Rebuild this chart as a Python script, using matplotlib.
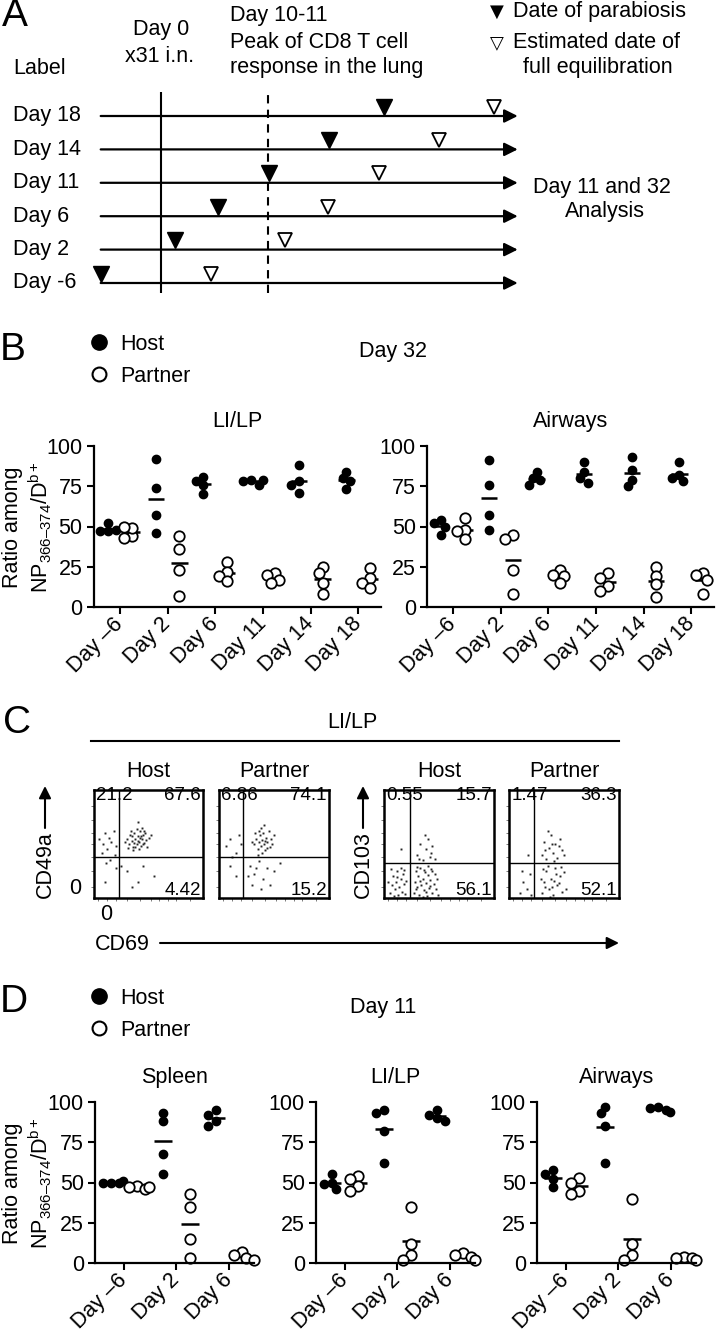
import numpy as np
import matplotlib.pyplot as plt
from matplotlib.lines import Line2D
import matplotlib.transforms as mtransforms

plt.rcParams['font.family'] = ['Liberation Sans', 'DejaVu Sans']
plt.rcParams['mathtext.fontset'] = 'custom'
plt.rcParams['mathtext.rm'] = 'Liberation Sans'
plt.rcParams['mathtext.it'] = 'Liberation Sans:italic'

# ---------------- data ----------------
# panel A: schematic timeline (day 0 = infection, units ~ days on the drawing)
row_labels = ['Day -6', 'Day 2', 'Day 6', 'Day 11', 'Day 14', 'Day 18']
parab_pos = [-6.0, 1.4, 5.7, 10.8, 16.8, 22.3]
equil_offset = 11.0
line_start, arrow_end = -6.0, 35.7
peak_pos = 10.7

# panel B: day 32, ratio among NP366-374/Db+ cells
groups_b = ['Day \u20136', 'Day 2', 'Day 6', 'Day 11', 'Day 14', 'Day 18']
lilp32_host = [[47, 47, 48, 52], [92, 74, 57, 46], [81, 78, 76, 70],
               [79, 78, 76, 79], [88, 78, 76, 71], [84, 80, 78, 73]]
lilp32_partner = [[44, 49, 50, 43], [44, 36, 23, 7], [28, 22, 19, 16],
                  [21, 20, 17, 15], [25, 21, 15, 8], [24, 18, 15, 12]]
air32_host = [[54, 52, 50, 45], [91, 76, 57, 48], [84, 80, 79, 76],
              [90, 84, 80, 77], [93, 85, 79, 75], [90, 82, 80, 78]]
air32_partner = [[55, 48, 47, 42], [45, 42, 23, 8], [23, 20, 19, 15],
                 [21, 18, 13, 10], [25, 19, 14, 6], [21, 20, 17, 8]]

# panel D: day 11
groups_d = ['Day \u20136', 'Day 2', 'Day 6']
spleen_host = [[50, 50, 50, 51], [93, 88, 68, 55], [95, 92, 88, 85]]
spleen_partner = [[48, 47, 46, 47], [43, 35, 15, 3], [7, 5, 3, 2]]
lilp11_host = [[55, 50, 49, 46], [95, 93, 82, 62], [95, 92, 90, 88]]
lilp11_partner = [[54, 52, 48, 45], [35, 12, 5, 2], [6, 5, 4, 2]]
air11_host = [[58, 55, 52, 47], [97, 93, 85, 62], [97, 96, 95, 94]]
air11_partner = [[53, 50, 45, 43], [40, 12, 5, 2], [4, 3, 3, 2]]

# panel C: flow plots (fractions of plot width/height), quadrant values
flow_titles = ['Host', 'Partner', 'Host', 'Partner']
flow_quads = [('21.2', '67.6', '4.42'), ('6.86', '74.1', '15.2'),
              ('0.55', '15.7', '56.1'), ('1.47', '36.3', '52.1')]
flow_gates = [(0.23, 0.38), (0.22, 0.38), (0.24, 0.32), (0.23, 0.32)]
flow1_x = [0.30, 0.32, 0.33, 0.35, 0.36, 0.37, 0.38, 0.39, 0.40, 0.41, 0.42, 0.43, 0.44, 0.45,
           0.46, 0.47, 0.48, 0.34, 0.36, 0.39, 0.41, 0.44, 0.49, 0.50, 0.31, 0.28, 0.37, 0.40,
           0.43, 0.35, 0.46, 0.38, 0.42, 0.45, 0.52, 0.40, 0.05, 0.08, 0.10, 0.12, 0.14, 0.16,
           0.18, 0.07, 0.15, 0.20, 0.11, 0.19, 0.25, 0.30, 0.40, 0.45, 0.35, 0.55, 0.10, 0.20]
flow1_y = [0.55, 0.50, 0.58, 0.53, 0.47, 0.60, 0.55, 0.50, 0.57, 0.52, 0.62, 0.48, 0.55, 0.58,
           0.51, 0.60, 0.54, 0.62, 0.44, 0.64, 0.45, 0.65, 0.47, 0.56, 0.46, 0.52, 0.51, 0.53,
           0.57, 0.57, 0.62, 0.47, 0.56, 0.50, 0.58, 0.70, 0.55, 0.50, 0.60, 0.45, 0.56, 0.52,
           0.62, 0.42, 0.35, 0.48, 0.32, 0.40, 0.30, 0.25, 0.15, 0.30, 0.10, 0.20, 0.15, 0.28]
flow2_x = [0.32, 0.34, 0.35, 0.36, 0.37, 0.38, 0.39, 0.40, 0.41, 0.42, 0.43, 0.44, 0.45, 0.46,
           0.38, 0.35, 0.41, 0.47, 0.33, 0.39, 0.44, 0.30, 0.36, 0.42, 0.48, 0.50, 0.06, 0.10,
           0.15, 0.18, 0.12, 0.20, 0.28, 0.32, 0.36, 0.40, 0.44, 0.30, 0.38, 0.50, 0.26, 0.46,
           0.34, 0.55, 0.10, 0.15]
flow2_y = [0.50, 0.55, 0.45, 0.52, 0.58, 0.48, 0.54, 0.60, 0.50, 0.44, 0.56, 0.52, 0.62, 0.47,
           0.65, 0.40, 0.68, 0.55, 0.60, 0.42, 0.46, 0.52, 0.62, 0.53, 0.50, 0.58, 0.48, 0.55,
           0.42, 0.58, 0.38, 0.50, 0.30, 0.22, 0.34, 0.18, 0.28, 0.12, 0.08, 0.25, 0.20, 0.12,
           0.28, 0.32, 0.30, 0.20]
flow3_x = [0.05, 0.07, 0.08, 0.10, 0.11, 0.12, 0.13, 0.14, 0.15, 0.16, 0.17, 0.18, 0.19, 0.06,
           0.09, 0.20, 0.12, 0.15, 0.04, 0.18, 0.27, 0.28, 0.29, 0.30, 0.31, 0.32, 0.33, 0.34,
           0.35, 0.36, 0.37, 0.38, 0.39, 0.40, 0.41, 0.42, 0.43, 0.44, 0.45, 0.46, 0.47, 0.48,
           0.30, 0.35, 0.40, 0.44, 0.33, 0.38, 0.42, 0.36, 0.29, 0.49, 0.30, 0.33, 0.35, 0.38,
           0.40, 0.42, 0.44, 0.46, 0.37, 0.43, 0.32, 0.15]
flow3_y = [0.05, 0.12, 0.20, 0.08, 0.15, 0.25, 0.03, 0.10, 0.18, 0.06, 0.22, 0.13, 0.04, 0.27,
           0.02, 0.16, 0.19, 0.28, 0.15, 0.26, 0.05, 0.15, 0.25, 0.10, 0.20, 0.03, 0.28, 0.12,
           0.18, 0.07, 0.24, 0.14, 0.02, 0.21, 0.09, 0.17, 0.27, 0.05, 0.13, 0.22, 0.08, 0.18,
           0.29, 0.01, 0.30, 0.25, 0.16, 0.06, 0.11, 0.26, 0.08, 0.03, 0.40, 0.50, 0.35, 0.45,
           0.55, 0.38, 0.48, 0.36, 0.58, 0.42, 0.36, 0.45]
flow4_x = [0.10, 0.13, 0.16, 0.19, 0.12, 0.20, 0.30, 0.32, 0.34, 0.36, 0.38, 0.40, 0.42, 0.44,
           0.46, 0.48, 0.35, 0.39, 0.43, 0.31, 0.37, 0.45, 0.50, 0.33, 0.41, 0.47, 0.29, 0.52,
           0.30, 0.32, 0.34, 0.36, 0.38, 0.40, 0.42, 0.44, 0.46, 0.48, 0.35, 0.41, 0.39, 0.45,
           0.33, 0.50, 0.17]
flow4_y = [0.05, 0.15, 0.08, 0.22, 0.25, 0.03, 0.05, 0.15, 0.25, 0.08, 0.18, 0.03, 0.28, 0.12,
           0.20, 0.06, 0.30, 0.10, 0.22, 0.27, 0.01, 0.14, 0.24, 0.10, 0.16, 0.29, 0.18, 0.08,
           0.40, 0.52, 0.36, 0.46, 0.58, 0.42, 0.50, 0.37, 0.55, 0.44, 0.62, 0.34, 0.50, 0.48,
           0.44, 0.40, 0.40]

FS = 15.5
W, H = 716, 1335
fig = plt.figure(figsize=(W / 100, H / 100), dpi=100)


def box(x0, y0, x1, y1, **kw):
    return fig.add_axes([x0 / W, 1 - y1 / H, (x1 - x0) / W, (y1 - y0) / H], **kw)


ov = box(0, 0, W, H, zorder=-1)
ov.set_xlim(0, W)
ov.set_ylim(H, 0)
ov.axis('off')


def label(x, y, s, size=FS, **kw):
    kw.setdefault('va', 'center')
    ov.text(x, y, s, fontsize=size, **kw)


# ---------------- panel A ----------------
axA = box(0, 0, W, 300)
axA.axis('off')
axA.set_xlim(-16.07, 55.53)
axA.set_ylim(-0.509, 8.473)
row_tr = mtransforms.blended_transform_factory(ov.transData, axA.transData)
for i, (lab, p) in enumerate(zip(row_labels, parab_pos)):
    axA.annotate('', xy=(arrow_end, i), xytext=(line_start, i),
                 arrowprops=dict(arrowstyle='-|>', color='k', lw=1.6,
                                 mutation_scale=20, shrinkA=0, shrinkB=0))
    axA.plot(p, i + 0.28, 'v', color='k', ms=11)
    axA.plot(p + equil_offset, i + 0.28, 'v', mfc='white', mec='k', mew=1.3, ms=10)
    axA.text(13, i, lab, transform=row_tr, fontsize=FS, va='center')
axA.vlines(0, -0.3, 5.72, color='k', lw=1.5)
axA.vlines(peak_pos, -0.3, 5.72, color='k', lw=1.5, linestyles=(0, (4, 3)))

label(2, 16, 'A', size=28)
label(13, 68, 'Label')
label(161, 30, 'Day 0', ha='center')
label(160, 57, 'x31 i.n.', ha='center')
label(230, 15, 'Day 10-11')
label(230, 42, 'Peak of CD8 T cell')
label(230, 68, 'response in the lung')
ov.text(497, 12, '\u25BC', fontsize=13, ha='center', va='center', family='DejaVu Sans')
ov.text(497, 43, '\u25BD', fontsize=13, ha='center', va='center', family='DejaVu Sans')
label(513, 12, 'Date of parabiosis')
label(513, 42, 'Estimated date of')
label(598, 68, 'full equilibration', ha='center')
label(533, 187, 'Day 11 and 32')
label(605, 212, 'Analysis', ha='center')

# ---------------- dot plots (B, D) ----------------
YLAB = 'Ratio among\nNP$_{366\u2013374}$/D$^{\\mathrm{b+}}$'


def swarm(vals, px_per_x, px_per_y, d=6.5):
    placed, offs = [], []
    for v in vals:
        for o in [0, -1, 1, -2, 2, -3, 3]:
            xo = o * d * 0.6
            if all(np.hypot(xo - a, (v - b) * px_per_y) >= d for a, b in placed):
                break
        placed.append((xo, v))
        offs.append(xo / px_per_x)
    return np.array(offs)


def dot_panel(ax, groups, host, partner, title, col_px):
    n = len(groups)
    ax.set_xlim(-0.6, 2 * n - 0.55)
    ax.set_ylim(0, 100)
    ppy = ax.get_position().height * H / 100
    for k, (h, p) in enumerate(zip(host, partner)):
        for col, vals, style in [(2 * k, h, dict(color='k', ms=6)),
                                 (2 * k + 1, p, dict(mfc='white', mec='k', mew=1.3, ms=7.5))]:
            xs = col + swarm(vals, col_px, ppy)
            ax.hlines(np.mean(vals), col - 0.34, col + 0.34, color='k', lw=1.8)
            ax.plot(xs, vals, 'o', ls='', clip_on=False, **style)
    ax.set_xticks(np.arange(n) * 2 + 0.5)
    ax.set_xticklabels(groups, rotation=45, ha='right', rotation_mode='anchor', va='center')
    ax.set_yticks([0, 25, 50, 75, 100])
    for s in ['top', 'right']:
        ax.spines[s].set_visible(False)
    for s in ['left', 'bottom']:
        ax.spines[s].set_linewidth(1.6)
    ax.tick_params(width=1.5, length=5, labelsize=FS, pad=3)
    ax.tick_params(axis='x', pad=5)
    ax.set_title(title, fontsize=FS, pad=14)


def legend_at(x, y):
    hs = [Line2D([], [], marker='o', ls='', color='k', ms=11),
          Line2D([], [], marker='o', ls='', mfc='white', mec='k', mew=1.5, ms=10)]
    fig.legend(hs, ['Host', 'Partner'], loc='upper left', bbox_to_anchor=(x / W, 1 - y / H),
               frameon=False, fontsize=FS, handlelength=0.8, handletextpad=0.6,
               labelspacing=0.5, borderpad=0, borderaxespad=0)


# panel B
label(0, 350, 'B', size=28)
legend_at(90, 334)
label(393, 352, 'Day 32', ha='center')
axBL = box(93.6, 446, 381, 607)
axBR = box(427, 446, 714, 607)
dot_panel(axBL, groups_b, lilp32_host, lilp32_partner, 'LI/LP', 23.9)
dot_panel(axBR, groups_b, air32_host, air32_partner, 'Airways', 23.9)
label(28, 527, YLAB, ha='center', rotation=90, multialignment='center')

# ---------------- panel C ----------------
label(3, 723, 'C', size=28)
label(352, 723, 'LI/LP', ha='center')
ov.plot([91, 619], [741, 741], color='k', lw=1.5)
flow_boxes = [(94, 203), (219, 329), (384, 494), (509, 619)]
flow_pts = [(flow1_x, flow1_y), (flow2_x, flow2_y), (flow3_x, flow3_y), (flow4_x, flow4_y)]
for (x0, x1), t, q, g, (fx, fy) in zip(flow_boxes, flow_titles, flow_quads, flow_gates, flow_pts):
    ax = box(x0, 790, x1, 898)
    ax.set_xlim(0, 1)
    ax.set_ylim(0, 1)
    ax.plot(fx, fy, 's', color='0.15', ms=1.4, mew=0)
    ax.axvline(g[0], color='k', lw=1)
    ax.axhline(g[1], color='k', lw=1)
    for s in ax.spines.values():
        s.set_linewidth(1.8)
    ax.set_xticks([0.04, 0.12, 0.2, 0.3, 0.42, 0.52, 0.6, 0.68, 0.75, 0.88])
    ax.set_yticks([0.1, 0.25, 0.38, 0.5, 0.6, 0.72, 0.85])
    ax.tick_params(length=2, width=0.6, labelbottom=False, labelleft=False, color='0.4')
    ax.set_title(t, fontsize=FS, pad=9)
    ax.text(0.02, 1.03, q[0], transform=ax.transAxes, fontsize=13.5, va='top', ha='left')
    ax.text(0.98, 1.03, q[1], transform=ax.transAxes, fontsize=13.5, va='top', ha='right')
    ax.text(0.98, -0.01, q[2], transform=ax.transAxes, fontsize=13.5, va='bottom', ha='right')

arr = dict(arrowstyle='-|>', color='k', lw=1.5, mutation_scale=18, shrinkA=0, shrinkB=0)
label(45, 865, 'CD49a', ha='center', rotation=90)
ov.annotate('', xy=(45, 786), xytext=(45, 828), arrowprops=arr)
label(363, 865, 'CD103', ha='center', rotation=90)
ov.annotate('', xy=(363, 786), xytext=(363, 828), arrowprops=arr)
label(75, 888, '0', ha='center')
label(106, 915, '0', ha='center')
label(95, 945, 'CD69')
ov.annotate('', xy=(619, 943), xytext=(160, 943), arrowprops=arr)

# ---------------- panel D ----------------
label(0, 1002, 'D', size=28)
legend_at(90, 988)
label(383, 1007, 'Day 11', ha='center')
axD1 = box(95, 1102, 254, 1263)
axD2 = box(316, 1102, 475, 1263)
axD3 = box(537, 1102, 696, 1263)
dot_panel(axD1, groups_d, spleen_host, spleen_partner, 'Spleen', 26)
dot_panel(axD2, groups_d, lilp11_host, lilp11_partner, 'LI/LP', 26)
dot_panel(axD3, groups_d, air11_host, air11_partner, 'Airways', 26)
label(28, 1183, YLAB, ha='center', rotation=90, multialignment='center')

fig.savefig('out.png', dpi=100)
